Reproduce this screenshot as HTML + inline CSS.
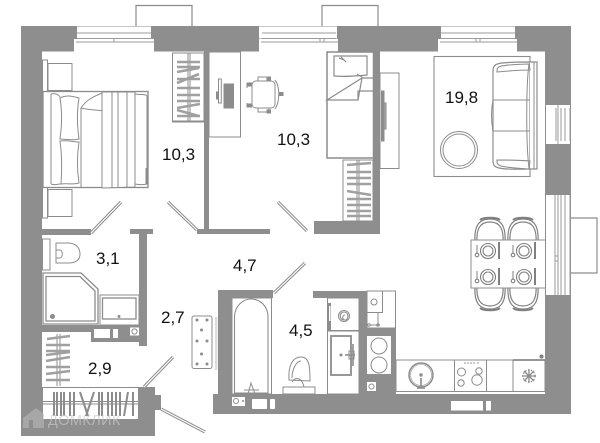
<!DOCTYPE html>
<html><head><meta charset="utf-8">
<style>
html,body{margin:0;padding:0;background:#fff;width:600px;height:443px;overflow:hidden}
svg{display:block;filter:blur(0.35px)}
text{font-family:"Liberation Sans",sans-serif}
</style></head><body>
<svg width="600" height="443" viewBox="0 0 600 443" xmlns="http://www.w3.org/2000/svg">
<defs>
<g id="plate" fill="none" stroke="#808080" stroke-width="1.100">
<circle cx="0" cy="0" r="7.500"/><circle cx="0" cy="0" r="5"/>
<path d="M-11,-6V2" stroke-width="1"/><circle cx="-11" cy="4" r="1.800"/>
<path d="M11,-9V8" stroke-width="2"/>
</g>
<g id="chairT" fill="none" stroke="#808080" stroke-width="1.200">
<path d="M-15,10C-16,-6-12,-14 0,-14C12,-14 16,-6 15,10"/>
<path d="M-13,10C-14,-4-10,-11 0,-11C10,-11 14,-4 13,10"/>
<path d="M-10,-13C-7,-16 7,-16 10,-13" stroke-width="2"/>
</g>
</defs>
<rect width="600" height="443" fill="#fff"/>

<g fill="none" stroke="#8c8c8c" stroke-width="1.200">
<path d="M136,27V5.500H192V27"/>
<path d="M322,27V5.500H378V27"/>
<path d="M570,218H597V273H570"/>
</g>

<g fill="#8e8e8e">
<rect x="21" y="26" width="550" height="25.500"/>
<rect x="21" y="26" width="21" height="410"/>
<rect x="545" y="26" width="26" height="388"/>
<rect x="204" y="51" width="5" height="178"/>
<rect x="197" y="229" width="73" height="5"/>
<rect x="373" y="51" width="7" height="183"/>
<rect x="314" y="221" width="66" height="13"/>
<rect x="42" y="229" width="49" height="6"/>
<rect x="139" y="229" width="8" height="117"/>
<rect x="130" y="229" width="23" height="5"/>
<rect x="42" y="325" width="105" height="7"/>
<rect x="91" y="325" width="56" height="17"/>
<rect x="21" y="387" width="134" height="49"/>
<rect x="138" y="387" width="17" height="49"/>
<rect x="155" y="395" width="6" height="15"/>
<rect x="218" y="290" width="55" height="8"/>
<rect x="218" y="290" width="14" height="124"/>
<rect x="213" y="394" width="358" height="20"/>
<rect x="313" y="291" width="54" height="7"/>
<rect x="359" y="291" width="8" height="103"/>
<rect x="366" y="291" width="30" height="103"/>
</g>

<g fill="#fff" stroke="#8c8c8c" stroke-width="1">
<rect x="77" y="26.500" width="74" height="12" stroke="none"/>
<rect x="74" y="39" width="80" height="12.500" stroke="none"/>
<path d="M77,33H151M77,38.500H154M76,42H154M114,39V42" fill="none" stroke="#9a9a9a"/>
<rect x="259" y="26.500" width="78" height="12" stroke="none"/>
<rect x="259" y="39" width="79" height="12.500" stroke="none"/>
<path d="M262,33H336M262,38.500H336M261,42H338M320,39V42M324,39V42" fill="none" stroke="#9a9a9a"/>
<rect x="441" y="26.500" width="74" height="12" stroke="none"/>
<rect x="438" y="39" width="79" height="12.500" stroke="none"/>
<path d="M441,33H515M441,38.500H515M440,42H517M476,39V42M480,39V42" fill="none" stroke="#9a9a9a"/>
<rect x="546" y="105" width="24" height="39" stroke="none"/>
<path d="M556,108V141M558,105V144M561,108V141M565,108V141M570,108V141" fill="none" stroke="#9a9a9a"/>
<rect x="546" y="195" width="24.500" height="100" stroke="none"/>
<path d="M555,195V295M558,195V295M561,195V295M565,195V295M570,195V295" fill="none" stroke="#9a9a9a"/>
<rect x="555" y="256" width="3" height="5" fill="none" stroke="#9a9a9a"/>
</g>

<g fill="#fff" stroke="#8c8c8c" stroke-width="1">
<rect x="42.500" y="60" width="5" height="158" fill="#fff"/>
<rect x="48" y="63.500" width="24" height="27"/>
<rect x="48" y="189.500" width="24" height="27"/>
<rect x="43" y="91.500" width="105" height="96" stroke-width="1.300"/>
<path d="M81,108V187" fill="none"/>
<path d="M51,94V184" fill="none"/>
<path d="M51,94C55,93 58,94 60,97M51,184C56,186 60,183 62,184" fill="none"/>
<path d="M60,98C68,94 74,97 79,98C77,110 77,125 79,139C72,141 65,139 60,139C62,125 62,110 60,98Z"/>
<path d="M60,141C68,140 74,142 79,142C77,155 77,170 79,183C72,185 65,183 61,184C62,170 62,155 60,141Z"/>
<path d="M81,108C86,100 94,96 105,92C103,100 104,106 106,111C98,110 88,110 81,108Z"/>
<path d="M102,92H135V187L102,188Z"/>
<path d="M112,92V188M118,92V188M127,92V188" fill="none"/>
<path d="M135,94C142,95 146,94 147,96V184C143,185 140,185 135,184" fill="none"/>
<path d="M146,168V184" fill="none"/>
</g>

<g fill="none" stroke="#8c8c8c">
<rect x="172.500" y="53" width="31.500" height="69" fill="#fff" stroke-width="1"/>
<path d="M188,53V121M190,53V121" stroke-width="1"/>
<path d="M177,62H200M177,67H200M177,72L199,68M177,79H200M177,83L199,74M177,88H200M177,95H200M177,101H200M177,108L200,104M177,116H200M177,110L199,116" stroke-width="2.600" stroke="#a0a0a0"/>
<path d="M173,121.500H204" stroke-width="2"/>
</g>

<g fill="none" stroke="#8c8c8c" stroke-width="1">
<rect x="209" y="52" width="31.500" height="85"/>
<rect x="218.500" y="79" width="2.800" height="24" fill="#fff"/>
<rect x="216.500" y="92" width="2" height="7" fill="#8c8c8c"/>
<rect x="224" y="84" width="9.500" height="24" fill="#8c8c8c"/>
<rect x="252" y="81" width="23" height="27" rx="4" fill="#fff"/>
<path d="M258,81V77H269V81M258,108V112H269V108M275,80C280,86 280,102 275,109"/>
<path d="M247,88V83H252M247,103V107H252"/>
<rect x="247.500" y="83" width="4" height="3" fill="#8c8c8c"/>
<rect x="247.500" y="104" width="4" height="3" fill="#8c8c8c"/>
<rect x="267" y="77" width="3.500" height="3" fill="#8c8c8c"/>
<rect x="267" y="110" width="3.500" height="3" fill="#8c8c8c"/>
<rect x="279" y="92.500" width="4" height="3" fill="#8c8c8c"/>
</g>

<g fill="#fff" stroke="#8c8c8c" stroke-width="1.200">
<rect x="327" y="52" width="46.500" height="106" stroke-width="1.500"/>
<path d="M334,56H367V75C357,76 344,77 334,76Z"/>
<path d="M341,57L346,62M339,58L344,60M357,74L362,77" fill="none"/>
<path d="M327,100L362,78L358,100C348,100 338,100 327,100Z" fill="none"/>
<path d="M358,100V91H373M362,78H373" fill="none"/>
</g>

<g fill="none" stroke="#8c8c8c">
<rect x="343" y="160" width="30" height="61" fill="#fff" stroke-width="1"/>
<path d="M357,160V221M359,160V221" stroke-width="1"/>
<path d="M347,165L371,163M347,172H371M347,178H371M347,184H371M347,191L371,195M347,199H371M347,205H371M347,211H371M347,216H371" stroke-width="2.500" stroke="#a0a0a0"/>
</g>

<g fill="none" stroke="#8c8c8c" stroke-width="1">
<rect x="380" y="73" width="19" height="95.500"/>
<rect x="381.500" y="91" width="2.500" height="50" fill="#8c8c8c"/>
<rect x="384" y="103" width="2" height="26" fill="#aaa"/>
</g>

<g fill="none" stroke="#8c8c8c" stroke-width="1">
<rect x="434" y="56.500" width="96" height="120" stroke-width="1.100"/>
<circle cx="459" cy="150" r="18.500" fill="#fff"/>
<circle cx="459" cy="150" r="16"/>
<path d="M493,71C493,63 497,62 530,62V169C497,170 493,168 493,161Z" fill="#fff" stroke-width="1.200"/>
<path d="M530,62H537V169H530" fill="#fff" stroke-width="1.200"/>
<path d="M534,62V169"/>
<path d="M497,72C497,66 497,65 529,64L530,70C520,70 508,71 497,72ZM497,160C497,166 497,167 529,169L530,161C520,160 508,160 497,160Z" stroke-width="1.100"/>
<path d="M493,100H530M493,131H530M529,64C526,85 526,145 529,168"/>
<path d="M493,100C491,110 491,120 493,131"/>
</g>

<g transform="translate(490,233)"><use href="#chairT"/></g>
<g transform="translate(523,233)"><use href="#chairT"/></g>
<g transform="translate(490,295) scale(1,-1)"><use href="#chairT"/></g>
<g transform="translate(523,295) scale(1,-1)"><use href="#chairT"/></g>
<rect x="471" y="240" width="74.500" height="48" fill="#fff" stroke="#8c8c8c" stroke-width="1"/>
<g transform="translate(488,251)"><use href="#plate"/></g>
<g transform="translate(524,251)"><use href="#plate"/></g>
<g transform="translate(488,277)"><use href="#plate"/></g>
<g transform="translate(524,277)"><use href="#plate"/></g>

<g fill="none" stroke="#8c8c8c" stroke-width="3.200">
<path d="M121,202L91,233"/>
<path d="M168,202L197,230"/>
<path d="M278,202L307,231"/>
<path d="M173,357L144,387"/>
<path d="M161,409L205,432"/>
<path d="M274,293L305,263"/>
</g>
<g fill="none" stroke="#fff" stroke-width="1.200">
<path d="M121,202L91,233"/>
<path d="M168,202L197,230"/>
<path d="M278,202L307,231"/>
<path d="M173,357L144,387"/>
<path d="M161,409L205,432"/>
<path d="M274,293L305,263"/>
</g>

<g fill="#fff" stroke="#8c8c8c" stroke-width="1">
<rect x="42.500" y="239" width="7.500" height="31"/>
<path d="M56,243H68C76,243 80,248 80,254C80,260 76,263 68,263H56Z"/>
<path d="M56,250H60C63,250 63,258 60,258H56" fill="none"/>
<path d="M43,273H81L98,289V324H43Z" stroke-width="1.300"/>
<path d="M46,276.500H80L95,291V321H46Z" stroke-width="1.300"/>
<circle cx="52.500" cy="316.500" r="2" fill="#8c8c8c"/>
<rect x="100" y="295" width="39" height="30"/>
<rect x="102.500" y="298" width="33.500" height="21" stroke-width="1.300"/>
<circle cx="119" cy="316.500" r="1" fill="#8c8c8c"/>
<rect x="94" y="329" width="16" height="9" stroke="none"/>
<rect x="113" y="329" width="5" height="9" stroke="none"/>
<rect x="130" y="327.500" width="9" height="8" stroke="none"/>
<circle cx="134.500" cy="331.500" r="2.600" fill="none"/>
</g>

<g fill="none">
<rect x="42" y="333" width="31" height="54" fill="#fff"/>
<path d="M57,334V386M60,334V386" stroke="#8c8c8c" stroke-width="1"/>
<path d="M47,339L70,336M46,345H70M46,351H70M46,355L70,352M46,361L70,357M46,367H70M46,374L70,371M46,380H70" stroke="#a0a0a0" stroke-width="2.500"/>
<path d="M42,387.500H139" stroke="#8c8c8c"/>
<rect x="43" y="388" width="95" height="31" fill="#fff"/>
<path d="M43,401.500H138M43,404H138" stroke="#8c8c8c" stroke-width="1"/>
<path d="M54,392V416M57,392V416M61,392V416M64,392V416M70,392V416M74,392V416M80,392L88,416M94,392L86,416M99,392V416M102,392V416M108,392V416M112,392V416M116,392L116,416M120,392V416M128,392L124,416M133,392V416" stroke="#8c8c8c" stroke-width="2"/>
</g>

<g fill="none" stroke="#8c8c8c" stroke-width="1">
<rect x="192" y="316" width="20" height="52.500" rx="2" fill="#fff"/>
<rect x="215" y="317" width="2.500" height="53" fill="#ddd" stroke="none"/>
<g fill="#8c8c8c" stroke="none">
<circle cx="197" cy="320" r="1.500"/><circle cx="207" cy="320" r="1.500"/>
<circle cx="201.500" cy="330" r="1.500"/>
<circle cx="197" cy="341" r="1.500"/><circle cx="207" cy="341" r="1.500"/>
<circle cx="201.500" cy="354" r="1.500"/>
<circle cx="197" cy="364" r="1.500"/><circle cx="207" cy="364" r="1.500"/>
</g>
</g>

<rect x="232" y="298" width="39.500" height="96" fill="#fff" stroke="#8c8c8c" stroke-width="1"/>
<path d="M234.500,393V317C234.500,306 243,299 251,299C260,299 268,306 268,317V393Z" fill="#fff" stroke="#8c8c8c" stroke-width="1.100"/>
<path d="M248,394L251,383L255,394M241,393H262M244,390H259" fill="none" stroke="#8c8c8c" stroke-width="1"/>
<rect x="232" y="397" width="13" height="9" fill="#fff"/>
<circle cx="236" cy="401" r="2.500" fill="none" stroke="#8c8c8c"/>
<circle cx="243" cy="401" r="1" fill="#8c8c8c"/>
<rect x="252" y="399" width="15" height="10" fill="#fff" rx="1"/>
<rect x="270" y="399" width="5" height="10" fill="#fff" rx="1"/>
<g fill="#fff" stroke="#8c8c8c" stroke-width="1">
<path d="M289,380C288,365 293,357 301,357C309,357 310,365 310,381Z"/>
<path d="M292,378C292,370 296,361 301,361" fill="none"/>
<rect x="283" y="387" width="32" height="7"/>
<path d="M292,382C296,376 302,378 304,387" fill="none"/>
</g>
<g fill="#fff" stroke="#8c8c8c" stroke-width="1">
<rect x="327.500" y="298" width="31.500" height="32.500"/>
<rect x="327.500" y="331" width="31.500" height="63"/>
<rect x="328" y="303" width="3" height="27" fill="#8c8c8c" stroke="none"/>
<rect x="329" y="306" width="1.500" height="15" fill="#fff" stroke="none"/>
<path d="M344,320C339,320 339,312 344,312C349,312 349,320 345,320C342,320 342,315 345,315" fill="none" stroke-width="1.100"/>
<circle cx="344" cy="316" r="5.500" fill="none"/>
<rect x="331" y="336" width="20" height="39" fill="none" stroke-width="1.800"/>
<circle cx="341" cy="355" r="1" fill="#8c8c8c"/>
<path d="M345,355H355M353,344V366" fill="none" stroke-width="1.600"/>
<rect x="349" y="351" width="5" height="8" fill="none"/>
</g>

<rect x="367" y="291" width="28.500" height="37" fill="#fff" stroke="#8c8c8c" stroke-width="1"/>
<g fill="none" stroke="#8c8c8c" stroke-width="1">
<path d="M367,312.500H382.500V291"/>
<circle cx="374" cy="302" r="3"/>
<path d="M370,325H379M378,312V325"/>
<circle cx="369" cy="325" r="1.300"/><circle cx="378" cy="325" r="1.300"/>
</g>
<rect x="367" y="336" width="24" height="38" fill="#fff"/>
<circle cx="379" cy="346" r="8" fill="none" stroke="#8c8c8c"/>
<circle cx="379" cy="365" r="8" fill="none" stroke="#8c8c8c"/>
<rect x="367" y="382" width="9" height="9" fill="#fff"/>
<circle cx="371.500" cy="386.500" r="2.500" fill="none" stroke="#8c8c8c"/>

<g fill="#fff" stroke="#8c8c8c" stroke-width="1">
<rect x="396" y="360" width="149" height="31.500"/>
<path d="M454.500,360V391M486.500,360V391M513,360V391" fill="none"/>
<circle cx="421" cy="375" r="12" stroke-width="1.500"/>
<circle cx="421" cy="375" r="10.500" stroke-width="0.600"/>
<circle cx="421" cy="375" r="1.200" fill="#8c8c8c"/>
<path d="M421,378V388M417,388H425" fill="none" stroke-width="1.600"/>
<circle cx="461.500" cy="372" r="4"/>
<circle cx="479" cy="371" r="3.200"/>
<circle cx="461" cy="383" r="3.200"/>
<circle cx="477" cy="380" r="5.200"/>
</g>
<g fill="#8c8c8c"><circle cx="465" cy="363" r=".8"/><circle cx="468" cy="363" r=".8"/><circle cx="471" cy="363" r=".8"/><circle cx="474" cy="363" r=".8"/><circle cx="478" cy="363" r=".8"/></g>
<g stroke="#8c8c8c" stroke-width="1.300" fill="none">
<path d="M529,369V383M522,376H536M524,371L534,381M534,371L524,381"/>
<circle cx="529" cy="376" r="6" stroke-dasharray="1.500 1.500"/>
</g>
<rect x="540" y="355" width="3" height="3" rx="1.500" fill="#8c8c8c" stroke="#777"/>
<path d="M513,360H545" stroke="#777" stroke-width="1.500"/>
<rect x="451" y="401" width="32" height="9.500" fill="#fff"/>
<rect x="486" y="401" width="5" height="9.500" fill="#fff"/>

<g font-size="17" fill="#111">
<text x="162" y="160">10,3</text>
<text x="277" y="145">10,3</text>
<text x="445" y="103">19,8</text>
<text x="96" y="264">3,1</text>
<text x="233" y="271">4,7</text>
<text x="161" y="323">2,7</text>
<text x="88" y="374">2,9</text>
<text x="289" y="336">4,5</text>
</g>

<path d="M23,418L36,408L44,414V428H33V420H29V428H23Z" fill="#bbb" opacity=".55"/>
<text x="48" y="425" font-size="14.500" fill="#ccc" opacity=".65" letter-spacing=".4">ДОМКЛИК</text>
</svg>
</body></html>
